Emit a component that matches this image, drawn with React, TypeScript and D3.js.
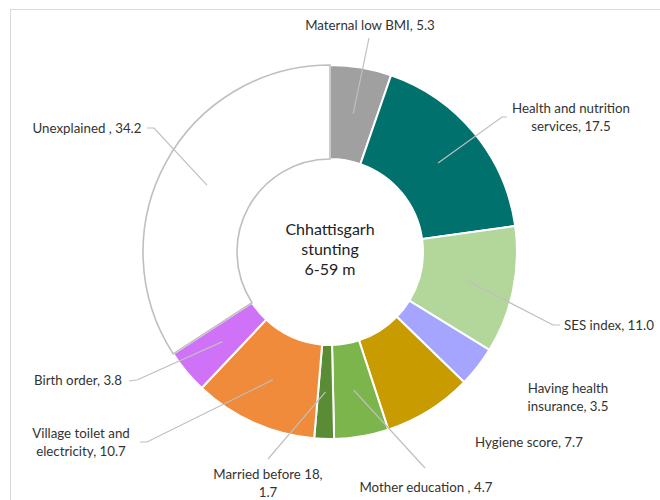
import React from 'react';
import * as d3 from 'd3';

// slices, clockwise from 12 o'clock
const categories = [
  'Maternal low BMI',
  'Health and nutrition services',
  'SES index',
  'Having health insurance',
  'Hygiene score',
  'Mother education ',
  'Married before 18',
  'Village toilet and electricity',
  'Birth order',
  'Unexplained ',
];
const values = [5.3, 17.5, 11.0, 3.5, 7.7, 4.7, 1.7, 10.7, 3.8, 34.2];
const colors = [
  '#a0a0a0', '#00716d', '#b3d69b', '#a5a5ff', '#c89b00',
  '#7bb54b', '#5a8b35', '#ef8b3a', '#d072f8', '#ffffff',
];
const centerLines = ['Chhattisgarh', 'stunting', '6-59 m'];

// label placement: x, first baseline, words on first line, leader elbow points
const labelLayout = [
  { x: 370, y: 30, wrap: 0, leader: [[369, 38]] },
  { x: 571, y: 113, wrap: 3, leader: [[502, 117], [507, 117]] },
  { x: 609, y: 330, wrap: 0, leader: [[553, 325], [560, 325]] },
  { x: 568, y: 393, wrap: 2, leader: [] },
  { x: 529, y: 447, wrap: 0, leader: [] },
  { x: 426, y: 492, wrap: 0, leader: [[425, 468]] },
  { x: 268, y: 479, wrap: 3, leader: [[268, 459]] },
  { x: 81, y: 438, wrap: 3, leader: [[147, 442], [140, 442]] },
  { x: 78, y: 385, wrap: 0, leader: [[137, 380], [129, 381]] },
  { x: 87, y: 133, wrap: 0, leader: [[154, 128], [147, 128]] },
];

const width = 660;
const height = 500;
const cx = 330;
const cy = 252;
const outerR = 187;
const innerR = 93;
const font = 'Lato, "Open Sans", sans-serif';

export default function App() {
  const pie = d3.pie<number>().sort(null).startAngle(0).endAngle(2 * Math.PI);
  const arcs = pie(values);
  const arc = d3.arc<d3.PieArcDatum<number>>().innerRadius(innerR).outerRadius(outerR);
  const line = d3.line();

  const order = arcs.map((_, i) => i).filter(i => i !== 9).concat([9]);

  return (
    <svg width={width} height={height} style={{ position: 'absolute', left: 0, top: 0 }}>
      <rect x={10.5} y={9.5} width={800} height={600} fill="#fff" stroke="#d9d9d9" />
      <g transform={`translate(${cx},${cy})`}>
        {order.map(i => (
          <path
            key={i}
            d={arc(arcs[i]) || ''}
            fill={colors[i]}
            stroke={i === 9 ? '#bfbfbf' : '#fff'}
            strokeWidth={i === 9 ? 1.6 : 2}
          />
        ))}
      </g>
      {arcs.map((a, i) => {
        const lay = labelLayout[i];
        if (!lay.leader.length) return null;
        const [px, py] = arc.centroid(a);
        const pts: [number, number][] = [[px + cx, py + cy], ...(lay.leader as [number, number][])];
        return <path key={i} d={line(pts) || ''} fill="none" stroke="#bfbfbf" strokeWidth={1.2} />;
      })}
      {categories.map((c, i) => {
        const lay = labelLayout[i];
        const words = `${c}, ${values[i].toFixed(1)}`.split(' ');
        const lines = lay.wrap ? [words.slice(0, lay.wrap).join(' '), words.slice(lay.wrap).join(' ')] : [words.join(' ')];
        return (
          <text key={i} x={lay.x} y={lay.y} textAnchor="middle" fontFamily={font} fontSize={13.3} fill="#333">
            {lines.map((l, j) => (
              <tspan key={j} x={lay.x} dy={j === 0 ? 0 : 18}>{l}</tspan>
            ))}
          </text>
        );
      })}
      <text x={cx} y={235} textAnchor="middle" fontFamily={font} fontSize={16} fill="#222">
        {centerLines.map((l, j) => (
          <tspan key={j} x={cx} dy={j === 0 ? 0 : 20}>{l}</tspan>
        ))}
      </text>
    </svg>
  );
}
